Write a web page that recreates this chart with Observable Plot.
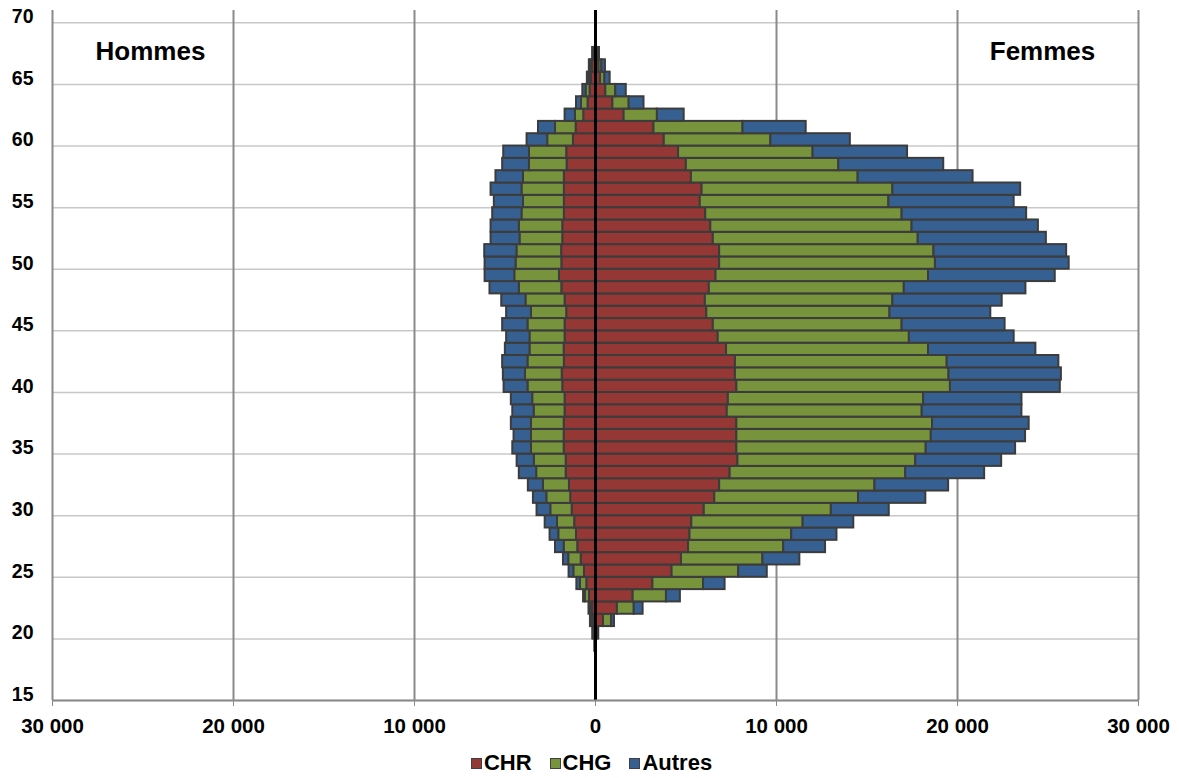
<!DOCTYPE html>
<html>
<head>
<meta charset="utf-8">
<script src="https://cdn.jsdelivr.net/npm/d3@7"></script>
<script src="https://cdn.jsdelivr.net/npm/@observablehq/plot@0.6"></script>
<style>
  html, body { margin: 0; padding: 0; background: #fff; }
  body { width: 1179px; height: 778px; overflow: hidden; font-family: "Liberation Sans", Arial, sans-serif; }
  #chart svg text { font-weight: bold; }
  #legend { display: flex; justify-content: center; align-items: center; height: 38px; font-size: 22px; font-weight: bold; color: #000; margin-left: 4px; }
  #legend .item { display: flex; align-items: center; margin: 0 9px; }
  #legend .sw { width: 9px; height: 9px; border: 1px solid #404040; margin-right: 2px; }
</style>
</head>
<body>
<div id="chart"></div>
<div id="legend"></div>
<script>
const ages = [19,20,21,22,23,24,25,26,27,28,29,30,31,32,33,34,35,36,37,38,39,40,41,42,43,44,45,46,47,48,49,50,51,52,53,54,55,56,57,58,59,60,61,62,63,64,65,66,67];

const femmesCHR = [40,100,440,1210,2080,3170,4230,4750,5140,5220,5320,6010,6590,6860,7440,7870,7810,7810,7810,7280,7340,7810,7730,7730,7240,6780,6510,6150,6070,6290,6660,6860,6860,6510,6370,6090,5790,5890,5300,5020,4590,3800,3230,1580,960,570,280,200,100];
const femmesCHG = [0,50,450,930,1840,2800,3680,4500,5260,5620,6150,7020,7940,8580,9700,9820,10460,10740,10810,10770,10790,11800,11800,11700,11160,10560,10430,10120,10360,10770,11740,11920,11840,11320,11120,10850,10420,10540,9210,8420,7430,5890,4920,1840,900,550,240,150,60];
const femmesAutres = [0,30,160,490,770,1190,1580,2040,2310,2500,2800,3200,3720,4070,4360,4750,4940,5210,5340,5510,5430,6070,6210,6170,5930,5790,5690,5570,6040,6720,7000,7390,7330,7080,6980,6880,6920,7060,6350,5800,5220,4390,3490,1480,820,580,290,200,60];

const hommesCHR = [40,80,120,170,330,480,610,790,980,1050,1150,1290,1370,1440,1620,1620,1730,1730,1730,1680,1680,1810,1840,1720,1730,1680,1680,1590,1680,1860,1990,1860,1870,1810,1810,1720,1720,1720,1720,1570,1590,1220,1070,650,410,300,230,180,80];
const hommesCHG = [0,40,80,110,240,350,590,690,750,980,950,1180,1320,1440,1630,1760,1810,1810,1810,1710,1790,1920,2030,2010,1890,1940,2050,1950,2160,2350,2470,2530,2470,2360,2400,2340,2260,2340,2260,2080,2060,1420,1140,460,365,220,100,80,40];
const hommesAutres = [0,30,80,80,90,200,260,290,480,480,680,760,740,830,960,950,1030,960,1110,1180,1180,1320,1220,1400,1360,1290,1400,1370,1340,1620,1640,1710,1780,1600,1560,1620,1610,1710,1520,1480,1420,1140,940,570,275,180,120,80,40];

const seriesNames = ["CHR", "CHG", "Autres"];
const seriesColors = ["#953735", "#77933C", "#376092"];
const sideTitles = ["Hommes", "Femmes"];
const xTicks = [-30000, -20000, -10000, 0, 10000, 20000, 30000];
const yTicks = [15, 20, 25, 30, 35, 40, 45, 50, 55, 60, 65, 70];

// Build stacked rects (men on negative side, women on positive side)
const rows = [];
ages.forEach((age, i) => {
  const sides = [
    {sign: -1, vals: [hommesCHR[i], hommesCHG[i], hommesAutres[i]]},
    {sign: 1, vals: [femmesCHR[i], femmesCHG[i], femmesAutres[i]]}
  ];
  for (const s of sides) {
    let acc = 0;
    s.vals.forEach((v, k) => {
      if (v > 0) rows.push({age, series: seriesNames[k], x1: s.sign * acc, x2: s.sign * (acc + v)});
      acc += v;
    });
  }
});

const fmt = v => d3.format(",")(Math.abs(v)).replace(/,/g, "\u00a0");

const chart = Plot.plot({
  width: 1179,
  height: 744,
  marginLeft: 52,
  marginRight: 41,
  marginTop: 10,
  marginBottom: 44,
  style: {fontFamily: '"Liberation Sans", Arial, sans-serif', background: "#fff", overflow: "visible"},
  x: {domain: [-30000, 30000]},
  y: {domain: [15, 71]},
  color: {domain: seriesNames, range: seriesColors},
  marks: [
    Plot.gridY(yTicks, {stroke: "#c8c8c8", strokeOpacity: 1, strokeWidth: 1.5}),
    Plot.gridX(xTicks, {stroke: "#8a8a8a", strokeOpacity: 1, strokeWidth: 2}),
    Plot.rect(rows, {x1: "x1", x2: "x2", y1: "age", y2: d => d.age + 1, fill: "series", stroke: "#3c3c3c", strokeWidth: 2}),
    Plot.ruleX([0], {stroke: "#000", strokeWidth: 3}),
    Plot.ruleY([15], {stroke: "#8a8a8a", strokeWidth: 2}),
    Plot.axisX(xTicks, {tickFormat: fmt, tickSize: 6, tickPadding: 12, fontSize: 20.5, stroke: "#8a8a8a", label: null, fill: "#000"}),
    Plot.axisY(yTicks, {tickSize: 0, tickPadding: 19, fontSize: 19.5, dy: -6, label: null, fill: "#000"}),
    Plot.text([sideTitles[0]], {frameAnchor: "top-left", dx: 98, dy: 31, textAnchor: "middle", fontSize: 26, fill: "#000"}),
    Plot.text([sideTitles[1]], {frameAnchor: "top-right", dx: -96, dy: 31, textAnchor: "middle", fontSize: 26, fill: "#000"})
  ]
});
document.getElementById("chart").appendChild(chart);

const legend = document.getElementById("legend");
seriesNames.forEach((name, k) => {
  const item = document.createElement("div");
  item.className = "item";
  const sw = document.createElement("span");
  sw.className = "sw";
  sw.style.background = seriesColors[k];
  item.appendChild(sw);
  const t = document.createElement("span");
  t.textContent = name;
  item.appendChild(t);
  legend.appendChild(item);
});
</script>
</body>
</html>
